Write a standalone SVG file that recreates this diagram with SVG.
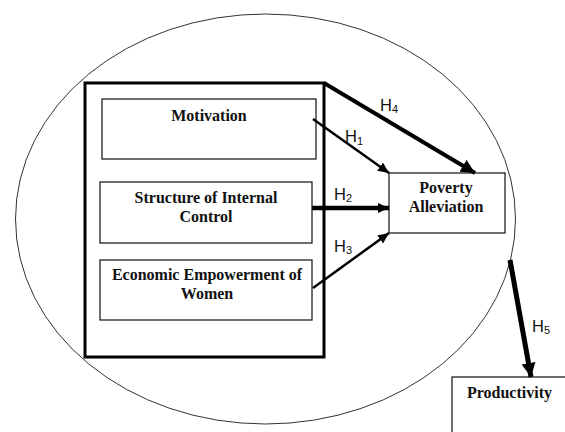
<svg xmlns="http://www.w3.org/2000/svg" width="565" height="432" viewBox="0 0 565 432">
<style>
.box{fill:#fff;stroke:#222;stroke-width:1.3}
.lbl{font-family:"Liberation Serif","Times New Roman",serif;font-weight:bold;font-size:16px;fill:#111;text-anchor:middle}
.h{font-family:"Liberation Sans",Arial,sans-serif;font-size:16.5px;fill:#111}
.sub{font-size:11px}
.c{stroke:#000;fill:none}
</style>
<defs>
<marker id="ah" markerUnits="userSpaceOnUse" markerWidth="12" markerHeight="12" refX="11" refY="5" orient="auto">
<path d="M0,0 L11,5 L0,10 z" fill="#000"/>
</marker>
<marker id="ahb" markerUnits="userSpaceOnUse" markerWidth="16" markerHeight="16" refX="14" refY="7" orient="auto">
<path d="M0,0 L14,7 L0,14 z" fill="#000"/>
</marker>
</defs>
<rect width="565" height="432" fill="#fff"/>
<ellipse id="boundary" cx="265.5" cy="219" rx="250" ry="205" fill="none" stroke="#333" stroke-width="1"/>
<g id="outer-box"><rect x="85" y="83" width="239" height="274" fill="none" stroke="#000" stroke-width="3"/></g>
<g id="motivation"><rect class="box" x="102" y="99" width="214" height="60"/><text class="lbl" x="209" y="121">Motivation</text></g>
<g id="structure"><rect class="box" x="100" y="182" width="212" height="61"/><text class="lbl" x="206" y="203">Structure of Internal</text><text class="lbl" x="206" y="222">Control</text></g>
<g id="economic"><rect class="box" x="100" y="260" width="212" height="60"/><text class="lbl" x="207" y="280">Economic Empowerment of</text><text class="lbl" x="207" y="299">Women</text></g>
<g id="poverty"><rect class="box" x="389" y="173" width="116" height="60"/><text class="lbl" x="446" y="193">Poverty</text><text class="lbl" x="446" y="212">Alleviation</text></g>
<g id="productivity"><rect class="box" x="452" y="377" width="130" height="80"/><text class="lbl" x="509.5" y="398">Productivity</text></g>
<g id="connectors">
<line class="c" x1="324" y1="83" x2="475" y2="173" stroke-width="4" marker-end="url(#ahb)"/>
<line class="c" x1="313" y1="119" x2="389" y2="173" stroke-width="2.5" marker-end="url(#ah)"/>
<line class="c" x1="312" y1="208" x2="389" y2="208" stroke-width="4.5" marker-end="url(#ah)"/>
<line class="c" x1="313" y1="288" x2="389" y2="233" stroke-width="2.5" marker-end="url(#ah)"/>
<line class="c" x1="510" y1="260" x2="531" y2="377" stroke-width="5" marker-end="url(#ahb)"/>
<text class="h" x="380" y="111">H<tspan class="sub" dy="2">4</tspan></text>
<text class="h" x="345" y="142">H<tspan class="sub" dy="3">1</tspan></text>
<text class="h" x="334" y="200">H<tspan class="sub" dy="2">2</tspan></text>
<text class="h" x="334" y="252">H<tspan class="sub" dy="2">3</tspan></text>
<text class="h" x="532" y="332">H<tspan class="sub" dy="2">5</tspan></text>
</g>
</svg>
